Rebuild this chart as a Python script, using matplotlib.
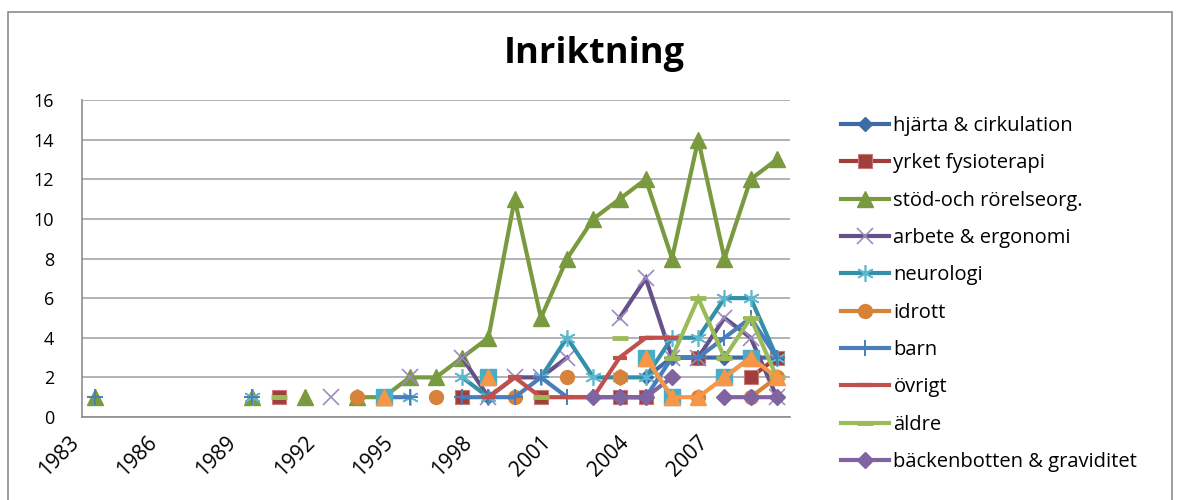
#Inriktning per år (1983-2009), Excel-style line chart
import numpy as np
import matplotlib.pyplot as plt
from matplotlib.patches import Rectangle
from matplotlib.transforms import ScaledTranslation

plt.rcParams.update({"font.family": ["Open Sans", "DejaVu Sans"], "font.size": 13})

n = np.nan
years = list(range(1983, 2010))

def series(d):
    return [d.get(y, n) for y in years]

hjarta = series({1998: 1, 2004: 2, 2005: 3, 2006: 3, 2007: 3, 2008: 3, 2009: 3})
yrket = series({1990: 1, 1997: 1, 2000: 1, 2003: 1, 2004: 1, 2006: 3, 2008: 2, 2009: 3})
stod = series({1983: 1, 1989: 1, 1991: 1, 1993: 1, 1994: 1, 1995: 2, 1996: 2, 1997: 3,
               1998: 4, 1999: 11, 2000: 5, 2001: 8, 2002: 10, 2003: 11, 2004: 12,
               2005: 8, 2006: 14, 2007: 8, 2008: 12, 2009: 13})
arbete = series({1992: 1, 1995: 2, 1997: 3, 1998: 1, 1999: 2, 2000: 2, 2001: 3, 2003: 5,
                 2004: 7, 2005: 3, 2006: 3, 2007: 5, 2008: 4, 2009: 1})
neuro = series({1989: 1, 1995: 1, 1997: 2, 1998: 1, 2000: 2, 2001: 4, 2002: 2, 2003: 2,
                2004: 2, 2005: 4, 2006: 4, 2007: 6, 2008: 6, 2009: 3})
idrott = series({1993: 1, 1996: 1, 1999: 1, 2001: 2, 2003: 2, 2006: 1, 2008: 1, 2009: 2})
barn = series({1983: 1, 1989: 1, 1994: 1, 1995: 1, 1997: 1, 1998: 1, 1999: 1, 2000: 2,
               2001: 1, 2002: 1, 2003: 1, 2004: 1, 2005: 3, 2006: 3, 2007: 4, 2008: 5, 2009: 3})
ovrigt = series({1998: 1, 1999: 2, 2000: 1, 2001: 1, 2002: 1, 2003: 3, 2004: 4, 2005: 4})
aldre = series({1990: 1, 2000: 1, 2003: 4, 2005: 3, 2006: 6, 2007: 3, 2008: 5, 2009: 2})
backen = series({2002: 1, 2003: 1, 2004: 1, 2005: 2, 2007: 1, 2008: 1, 2009: 1})
# two more series whose legend entries are cut off at the bottom of the picture
s11 = series({1994: 1, 1998: 2, 2004: 3, 2005: 1, 2007: 2, 2008: 3})
s12 = series({1994: 1, 1998: 2, 2004: 3, 2005: 1, 2006: 1, 2007: 2, 2008: 3, 2009: 2})

labels = ["hjärta & cirkulation", "yrket fysioterapi", "stöd-och rörelseorg.",
          "arbete & ergonomi", "neurologi", "idrott", "barn", "övrigt", "äldre",
          "bäckenbotten & graviditet", None, None]
data = [hjarta, yrket, stod, arbete, neuro, idrott, barn, ovrigt, aldre, backen, s11, s12]

# (line colour, marker, marker face, marker edge, marker size, marker edge width)
styles = [
    ("#3D6BA6", "D", "#3D6BA6", "#3D6BA6", 7, 1),
    ("#A03E3B", "s", "#A03E3B", "#C87A78", 10, 0.8),
    ("#7A9A3F", "^", "#7A9A3F", "#7A9A3F", 12, 1),
    ("#65508A", "x", "none", "#9C8AC0", 11, 1.2),
    ("#3390A8", (6, 2, 0), "none", "#5CB8D0", 12, 1.2),
    ("#D7823A", "o", "#D7823A", "#D7823A", 10, 1),
    ("#4A7EBB", "+", "none", "#4A7EBB", 11, 1.4),
    ("#C0504D", "_", "none", "#C0504D", 10, 3),
    ("#9BBB59", "_", "none", "#9BBB59", 11, 3.5),
    ("#8064A2", "D", "#8064A2", "#8064A2", 8, 1),
    ("#4BACC6", "s", "#4BACC6", "#4BACC6", 11, 1),
    ("#F79646", "^", "#F79646", "#F79646", 11, 1),
]

fig = plt.figure(figsize=(11.8, 5), dpi=100)
fig.patches.append(Rectangle((8 / 1180, -0.01), 1164 / 1180, 1 - 12 / 500 + 0.01,
                             transform=fig.transFigure, fill=False,
                             edgecolor="#8C8C8C", lw=1.2))
ax = fig.add_axes([82 / 1180, 1 - 417 / 500, (790 - 82) / 1180, (417 - 100) / 500])

for i, (vals, lab, st) in enumerate(zip(data, labels, styles)):
    col, mk, mfc, mec, ms, mew = st
    ax.plot(years, vals, color=col, lw=3, marker=mk, mfc=mfc, mec=mec, ms=ms,
            mew=mew, label=lab if lab else "_nolegend_", zorder=3 + i,
            solid_joinstyle="miter")

ax.set_xlim(1982.5, 2009.5)
ax.set_ylim(0, 16)
ax.set_yticks(range(0, 17, 2))
ax.yaxis.grid(True, color="#A6A6A6", lw=1.2)
ax.set_axisbelow(True)
for s in ("top", "right"):
    ax.spines[s].set_visible(False)
for s in ("left", "bottom"):
    ax.spines[s].set_color("#8C8C8C")
    ax.spines[s].set_linewidth(1.2)
ax.tick_params(axis="both", length=0)
ax.tick_params(axis="y", pad=20, labelsize=13)
ax.tick_params(axis="x", pad=12)
ax.set_xticks(years[::3])
ax.set_xticklabels([str(y) for y in years[::3]], rotation=45, ha="right",
                   rotation_mode="anchor", fontsize=15)
shift = ScaledTranslation(-27 / 100, 2 / 100, fig.dpi_scale_trans)
for lbl in ax.get_xticklabels():
    lbl.set_transform(lbl.get_transform() + shift)

fig.text(594 / 1180, 1 - 54 / 500, "Inriktning", ha="center", va="center",
         fontsize=26, fontweight="bold")

ax.legend(loc="upper left", bbox_to_anchor=(833 / 1180, 1 - 108 / 500),
          bbox_transform=fig.transFigure, frameon=False, fontsize=14.5,
          handlelength=2.4, handletextpad=0.2, labelspacing=0.86, borderaxespad=0)

fig.savefig("out.png", dpi=100)
